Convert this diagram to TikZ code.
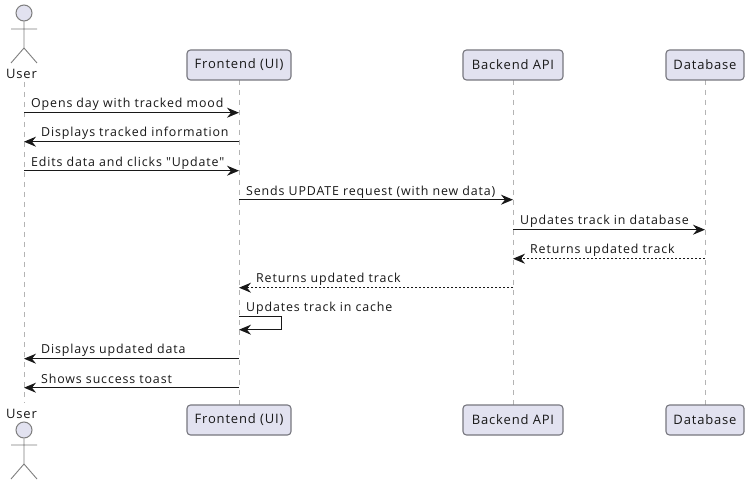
\documentclass[tikz,border=0pt]{standalone}
\usepackage{fontspec}
\newfontfamily\msgfont{Open Sans}[LetterSpace=7]
\newfontfamily\partyfont{Open Sans}[LetterSpace=6.4]
\usetikzlibrary{arrows.meta}
\definecolor{ink}{HTML}{181818}
\definecolor{boxfill}{HTML}{E2E2F0}
\definecolor{boxline}{HTML}{77777F}
\definecolor{lifeline}{HTML}{B4B4B4}
\newcommand{\dropped}[1]{\raisebox{-0.8pt}{#1}}
\tikzset{
  x=1pt,y=-1pt,
  party/.style={draw=boxline,fill=boxfill,line width=1.1pt,rounded corners=3.5pt,minimum height=30pt,inner sep=0pt,font=\partyfont\fontsize{13}{15}\selectfont,text=ink},
  lifeln/.style={draw=lifeline,line width=1pt,dash pattern=on 5pt off 5pt},
  limb/.style={draw=lifeline!70!black,line width=.9pt},
  head/.style={circle,draw=lifeline!70!black,fill=boxfill,line width=1pt,minimum size=16pt,inner sep=0pt},
  actorname/.style={inner sep=0pt,font=\partyfont\fontsize{13}{15}\selectfont,text=ink},
  msgtext/.style={anchor=base west,inner sep=0pt,font=\msgfont\fontsize{12.4}{14}\selectfont,text=ink},
  tip/.style={-{Stealth[length=12pt,width=10pt,inset=4pt]}},
  msg/.style={tip,draw=ink,line width=1pt},
  reply/.style={tip,draw=ink,line width=1pt,dash pattern=on 2pt off 2pt},
}
\begin{document}
\begin{tikzpicture}
\useasboundingbox (0,0) rectangle (752,486);
\fill[white] (0,0) rectangle (752,486);
% lifelines first
\coordinate (ut) at (24,82); \coordinate (ub) at (24,403);
\coordinate (ft) at (239,80); \coordinate (fb) at (239,405);
\coordinate (bt) at (513,80); \coordinate (bb) at (513,405);
\coordinate (dt) at (705,80); \coordinate (db) at (705,405);
\draw[lifeln] (ut) -- (ub);
\draw[lifeln] (ft) -- (fb);
\draw[lifeln] (bt) -- (bb);
\draw[lifeln] (dt) -- (db);
% participants
\node[party,minimum width=104pt] (f1) at (239,65) {\dropped{Frontend (UI)}};
\node[party,minimum width=100pt] (b1) at (513,65) {\dropped{Backend API}};
\node[party,minimum width=78pt] (d1) at (705,65) {\dropped{Database}};
\node[party,minimum width=104pt] (f2) at (239,420) {\dropped{Frontend (UI)}};
\node[party,minimum width=100pt] (b2) at (513,420) {\dropped{Backend API}};
\node[party,minimum width=78pt] (d2) at (705,420) {\dropped{Database}};
% actors
\node[head] (h1) at (24,13) {};
\coordinate (hip1) at (24,48);
\coordinate (al1) at (11,29); \coordinate (ar1) at (37,29);
\coordinate (ll1) at (11,63); \coordinate (lr1) at (37,63);
\draw[limb] (h1) -- (hip1) (al1) -- (ar1) (hip1) -- (ll1) (hip1) -- (lr1);
\node[actorname] (u1) at (21.5,73.8) {User};
\node[head] (h2) at (24,430) {};
\coordinate (hip2) at (24,464);
\coordinate (al2) at (11,445); \coordinate (ar2) at (37,445);
\coordinate (ll2) at (11,479); \coordinate (lr2) at (37,479);
\draw[limb] (h2) -- (hip2) (al2) -- (ar2) (hip2) -- (ll2) (hip2) -- (lr2);
\node[actorname] (u2) at (21.5,413.8) {User};
% messages
\begin{scope}[yshift=-0.7pt]
\draw[msg] (ut |- 0,112) -- (ft |- 0,112);
\node[msgtext] (t1) at (31,107) {Opens day with tracked mood};
\draw[msg] (ft |- 0,141) -- (ut |- 0,141);
\node[msgtext] (t2) at (41,136) {Displays tracked information};
\draw[msg] (ut |- 0,170) -- (ft |- 0,170);
\node[msgtext] (t3) at (31,166) {Edits data and clicks "Update"};
\draw[msg] (ft |- 0,199) -- (bt |- 0,199);
\node[msgtext] (t4) at (246,195) {Sends UPDATE request (with new data)};
\draw[msg] (bt |- 0,229) -- (dt |- 0,229);
\node[msgtext] (t5) at (520,224) {Updates track in database};
\draw[reply] (dt |- 0,258) -- (bt |- 0,258);
\node[msgtext] (t6) at (530,253) {Returns updated track};
\draw[reply] (bt |- 0,287) -- (ft |- 0,287);
\node[msgtext] (t7) at (256,282) {Returns updated track};
\draw[msg,rounded corners=0pt] (ft |- 0,316) -- (281,316) -- (281,329) -- (ft |- 0,329);
\node[msgtext] (t8) at (246,311) {Updates track in cache};
\draw[msg] (ft |- 0,358) -- (ut |- 0,358);
\node[msgtext] (t9) at (41,353) {Displays updated data};
\draw[msg] (ft |- 0,387) -- (ut |- 0,387);
\node[msgtext] (t10) at (41,383) {Shows success toast};
\end{scope}
\end{tikzpicture}
\end{document}
